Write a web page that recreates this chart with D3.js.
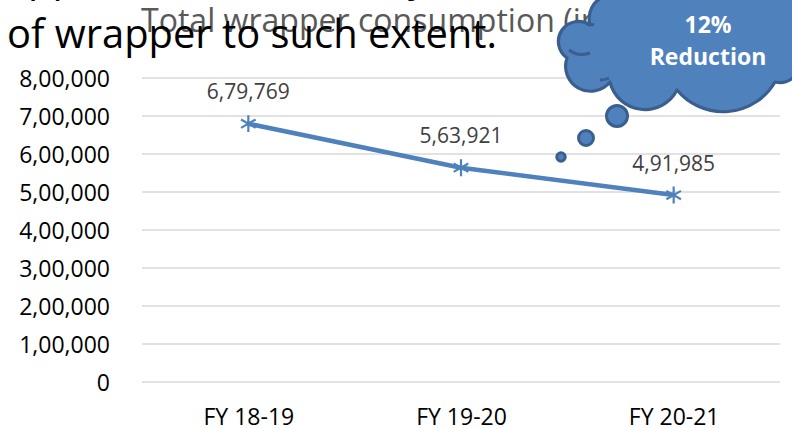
<!DOCTYPE html>
<html><head><meta charset="utf-8">
<script src="https://cdn.jsdelivr.net/npm/d3@7"></script>
<style>html,body{margin:0;padding:0;background:#fff;overflow:hidden}svg{display:block}</style>
</head><body>
<svg id="c" width="792" height="428"></svg>
<script>
const categories = ["FY 18-19", "FY 19-20", "FY 20-21"];
const consumption = [679769, 563921, 491985];
const yTicks = [0, 100000, 200000, 300000, 400000, 500000, 600000, 700000, 800000];
const chartTitle = "Total wrapper consumption (in kg)";
const slideText = "of wrapper to such extent.";
const calloutLines = ["12%", "Reduction"];

function indian(n) {
  const s = String(Math.round(n));
  if (s.length <= 3) return s;
  const last3 = s.slice(-3);
  let rest = s.slice(0, -3);
  const parts = [];
  while (rest.length > 2) { parts.unshift(rest.slice(-2)); rest = rest.slice(0, -2); }
  if (rest.length) parts.unshift(rest);
  return parts.join(",") + "," + last3;
}

const FONT = "'Open Sans', 'DejaVu Sans', sans-serif";
const svg = d3.select("#c");

const x = d3.scalePoint().domain(categories).range([142, 780]).padding(0.5);
const y = d3.scaleLinear().domain([0, 800000]).range([382, 78]);

// slide text partially cut at top (descenders only)
svg.append("text").attr("x", 28).attr("y", -9).attr("font-family", FONT)
  .attr("font-size", 40).attr("fill", "#000").text("pp");
svg.append("text").attr("x", 408).attr("y", -9).attr("font-family", FONT)
  .attr("font-size", 40).attr("fill", "#000").text("y");

// chart title (gray)
const tmp = svg.append("text").attr("font-family", FONT).attr("font-size", 30).text("Total wrapper consumption");
const tl = tmp.node().getComputedTextLength();
tmp.remove();
const titleSize = 30 * 414 / tl;
svg.append("text").attr("x", 141).attr("y", 32).attr("font-family", FONT)
  .attr("font-size", titleSize).attr("fill", "#595959").text(chartTitle);

// gridlines
svg.append("g").selectAll("line").data(yTicks).join("line")
  .attr("x1", 142).attr("x2", 780)
  .attr("y1", d => y(d)).attr("y2", d => y(d))
  .attr("stroke", "#D9D9D9").attr("stroke-width", 1.5);

// y axis labels
const yAxis = d3.axisLeft(y).tickValues(yTicks).tickFormat(indian).tickSize(0).tickPadding(0);
const ya = svg.append("g").attr("transform", "translate(110,0)").call(yAxis);
ya.select(".domain").remove();
ya.selectAll("text").attr("font-family", FONT).attr("font-size", 23).attr("fill", "#000").attr("dy", "0.36em");

// x axis labels
const xAxis = d3.axisBottom(x).tickSize(0).tickPadding(0);
const xa = svg.append("g").attr("transform", "translate(0,408)").call(xAxis);
xa.select(".domain").remove();
xa.selectAll("text").attr("font-family", FONT).attr("font-size", 23).attr("fill", "#000").attr("dy", "0.72em");

// line
const data = categories.map((c, i) => ({ c, v: consumption[i] }));
svg.append("path").datum(data)
  .attr("d", d3.line().x(d => x(d.c)).y(d => y(d.v)))
  .attr("fill", "none").attr("stroke", "#4F81BD").attr("stroke-width", 4.5)
  .attr("stroke-linejoin", "round").attr("stroke-linecap", "round");

// markers (asterisk)
svg.append("g").selectAll("path").data(data).join("path")
  .attr("transform", d => `translate(${x(d.c)},${y(d.v)})`)
  .attr("d", d3.symbol(d3.symbolAsterisk, 200)())
  .attr("fill", "none").attr("stroke", "#4F81BD").attr("stroke-width", 2.2);

// data labels
svg.append("g").selectAll("text").data(data).join("text")
  .attr("x", d => x(d.c)).attr("y", d => y(d.v) - 32)
  .attr("dy", "0.36em").attr("text-anchor", "middle")
  .attr("font-family", FONT).attr("font-size", 21).attr("fill", "#404040")
  .text(d => indian(d.v));

// overlay black slide text
svg.append("text").attr("x", 7).attr("y", 48).attr("font-family", FONT)
  .attr("font-size", 40).attr("fill", "#000")
  .attr("textLength", 490).attr("lengthAdjust", "spacingAndGlyphs").text(slideText);

// thought-cloud callout
const cloudFill = "#4F81BD", cloudStroke = "#3A5F8E";
const cloud = svg.append("g");
cloud.append("path")
  .attr("d", "M 612 -20 L 605 -4 A 24 24 0 0 0 590 25 A 17 17 0 0 0 567 58 A 25 25 0 0 0 610 82 A 36 36 0 0 0 677 90 A 60 60 0 0 0 775 82 A 20 20 0 0 0 800 62 L 800 -20 Z")
  .attr("fill", cloudFill).attr("stroke", cloudStroke).attr("stroke-width", 3.2).attr("stroke-linejoin", "round");
// inner arcs
cloud.append("path").attr("d", "M 569 50 A 22 22 0 0 0 590 53").attr("fill", "none")
  .attr("stroke", cloudStroke).attr("stroke-width", 3);
cloud.append("path").attr("d", "M 600 80 A 20 20 0 0 0 609 78").attr("fill", "none")
  .attr("stroke", cloudStroke).attr("stroke-width", 3);
cloud.append("path").attr("d", "M 586 24 A 20 20 0 0 1 594 25").attr("fill", "none")
  .attr("stroke", cloudStroke).attr("stroke-width", 3);
// bubbles
const bubbles = [[617, 116, 10.5], [586, 138, 7.5], [561, 157, 4.2]];
cloud.selectAll("circle").data(bubbles).join("circle")
  .attr("cx", d => d[0]).attr("cy", d => d[1]).attr("r", d => d[2])
  .attr("fill", cloudFill).attr("stroke", cloudStroke).attr("stroke-width", 3);
cloud.selectAll("text.cl").data(calloutLines).join("text").attr("class", "cl")
  .attr("x", 708).attr("y", (d, i) => 33 + i * 32)
  .attr("text-anchor", "middle").attr("font-family", FONT).attr("font-weight", 700)
  .attr("font-size", 23).attr("fill", "#fff").text(d => d);
</script>
</body></html>
